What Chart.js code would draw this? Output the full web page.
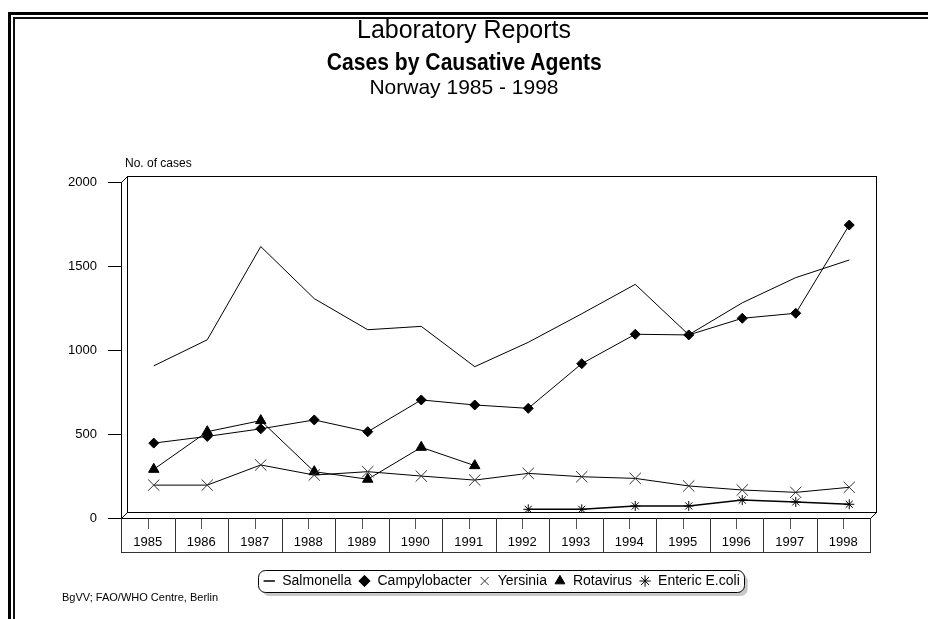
<!DOCTYPE html>
<html>
<head>
<meta charset="utf-8">
<title>Laboratory Reports - Norway 1985-1998</title>
<script src="https://cdn.jsdelivr.net/npm/chart.js@4.4.1/dist/chart.umd.min.js"></script>
<style>
    html, body { margin: 0; padding: 0; background: #fff; overflow: hidden; }
    body { width: 928px; height: 619px; position: relative; font-family: "Liberation Sans", Arial, sans-serif; color: #000; }
    .frame-outer { position: absolute; left: 8px; top: 12px; width: 1000px; height: 700px; border-left: 3px solid #000; border-top: 3px solid #000; }
    .frame-inner { position: absolute; left: 13px; top: 17px; width: 1000px; height: 700px; border-left: 2px solid #111; border-top: 2px solid #111; }
    .title { position: absolute; left: 0; width: 928px; text-align: center; line-height: 1; white-space: nowrap; }
    .title span { display: inline-block; }
    #t1 { top: 17px; font-size: 25px; }
    #t2 { top: 50px; font-size: 24px; font-weight: bold; }
    #t2 span { transform: scaleX(0.88); }
    #t3 { top: 76px; font-size: 21px; }
    #source { position: absolute; left: 62px; top: 592px; font-size: 11px; line-height: 1; }
    #chart-wrap { position: absolute; left: 0; top: 0; width: 928px; height: 619px; }
</style>
</head>
<body>
<div class="frame-outer"></div>
<div class="frame-inner"></div>
<div id="chart-wrap"><canvas id="lab-chart" width="928" height="619"></canvas></div>
<div class="title" id="t1"><span>Laboratory Reports</span></div>
<div class="title" id="t2"><span>Cases by Causative Agents</span></div>
<div class="title" id="t3"><span>Norway 1985 - 1998</span></div>
<div id="source">BgVV; FAO/WHO Centre, Berlin</div>

<script>
// 資料
const years = ['1985', '1986', '1987', '1988', '1989', '1990', '1991',
               '1992', '1993', '1994', '1995', '1996', '1997', '1998'];
const salmonella    = [870, 1025, 1580, 1270, 1085, 1105, 865, 1010, 1180, 1355, 1055, 1245, 1395, 1500];
const campylobacter = [410, 450, 495, 548, 478, 667, 637, 617, 883, 1058, 1054, 1153, 1183, 1708];
const yersinia      = [160, 160, 280, 220, 240, 214, 190, 230, 210, 200, 155, 131, 117, 147];
const rotavirus     = [254, 478, 544, 240, 195, 385, 276, null, null, null, null, null, null, null];
const entericEcoli  = [null, null, null, null, null, null, null, 16, 16, 36, 36, 71, 60, 46];
const yTicks = [0, 500, 1000, 1500, 2000];

const FONT = '"Liberation Sans", Arial, sans-serif';
const DEPTH = 6; // 3D 深度 (px)

// 3D 外框 / 分類表格 / 圖例外框
const frame3d = {
    id: 'frame3d',
    beforeDraw(chart) {
        const ctx = chart.ctx;
        const lg = chart.legend;
        if (!lg || !lg.legendHitBoxes || !lg.legendHitBoxes.length) return;
        const boxes = lg.legendHitBoxes;
        const left = Math.min(...boxes.map(b => b.left)) - 5;
        const right = Math.max(...boxes.map(b => b.left + b.width)) + 4;
        const top = Math.min(...boxes.map(b => b.top)) - 4;
        const bottom = Math.max(...boxes.map(b => b.top + b.height)) + 4;
        ctx.save();
        // 陰影
        ctx.fillStyle = '#c8c8c8';
        ctx.beginPath();
        ctx.roundRect(left + 4, top + 4, right - left, bottom - top, 7);
        ctx.fill();
        ctx.fillStyle = '#fff';
        ctx.strokeStyle = '#000';
        ctx.lineWidth = 1;
        ctx.beginPath();
        ctx.roundRect(Math.round(left) + 0.5, Math.round(top) + 0.5, Math.round(right - left), Math.round(bottom - top), 7);
        ctx.fill();
        ctx.stroke();
        ctx.restore();
    },
    beforeDatasetsDraw(chart) {
        const {ctx, chartArea: ca, scales: {x: xs, y: ys}} = chart;
        const L = Math.round(ca.left), R = Math.round(ca.right);
        const T = Math.round(ca.top), B = Math.round(ca.bottom);
        const line = (x1, y1, x2, y2) => {
            ctx.beginPath();
            ctx.moveTo(x1, y1);
            ctx.lineTo(x2, y2);
            ctx.stroke();
        };
        ctx.save();
        ctx.lineWidth = 1;
        ctx.strokeStyle = '#000';

        // 後牆
        ctx.strokeRect(L + 0.5, T + 0.5, R - L, B - T);

        // 左側牆與地板 (前緣)
        const fl = L - DEPTH, fb = B + DEPTH, fr = R - DEPTH;
        line(fl + 0.5, T + DEPTH, fl + 0.5, fb + 0.5);
        line(fl + 0.5, T + DEPTH + 0.5, L + 0.5, T + 0.5);
        line(fl + 0.5, fb + 0.5, L + 0.5, B + 0.5);
        line(fl, fb + 0.5, fr + 1, fb + 0.5);
        line(fr + 0.5, fb + 0.5, R + 0.5, B + 0.5);

        // Y 軸刻度
        yTicks.forEach(v => {
            const y = Math.round(ys.getPixelForValue(v)) + DEPTH + 0.5;
            line(fl - 13, y, fl + 1, y);
        });

        // 分類表格
        const band = (xs.right - xs.left) / years.length;
        const tb = fb + 34;
        ctx.strokeStyle = '#333';
        line(fl, tb + 0.5, fr + 1, tb + 0.5);
        for (let i = 0; i <= years.length; i++) {
            const x = Math.round(fl + band * i) + 0.5;
            line(x, fb, x, tb + 1);
        }
        ctx.strokeStyle = '#555';
        years.forEach((yr, i) => {
            const x = Math.round(xs.getPixelForValue(i) - DEPTH) + 0.5;
            line(x, fb + 1, x, fb + 11);
        });

        // 軸標題
        ctx.fillStyle = '#000';
        ctx.font = '12px ' + FONT;
        ctx.textAlign = 'left';
        ctx.textBaseline = 'middle';
        ctx.fillText('No. of cases', fl + 4, T - 12);
        ctx.restore();
    }
};

const ctx = document.getElementById('lab-chart').getContext('2d');
new Chart(ctx, {
    type: 'line',
    data: {
        labels: years,
        datasets: [
            {
                label: 'Salmonella',
                data: salmonella,
                borderColor: '#000',
                backgroundColor: '#000',
                borderWidth: 1,
                pointStyle: 'line',
                pointRadius: 0,
                pointBorderColor: '#000',
                pointBackgroundColor: '#000',
                pointBorderWidth: 1.5
            },
            {
                label: 'Campylobacter',
                data: campylobacter,
                borderColor: '#000',
                backgroundColor: '#000',
                borderWidth: 1,
                pointStyle: 'rectRot',
                pointRadius: 5,
                pointBorderColor: '#000',
                pointBackgroundColor: '#000',
                pointBorderWidth: 1
            },
            {
                label: 'Yersinia',
                data: yersinia,
                borderColor: '#000',
                backgroundColor: '#333',
                borderWidth: 1,
                pointStyle: 'crossRot',
                pointRadius: 8,
                pointBorderColor: '#333',
                pointBackgroundColor: '#333',
                pointBorderWidth: 1
            },
            {
                label: 'Rotavirus',
                data: rotavirus,
                borderColor: '#000',
                backgroundColor: '#000',
                borderWidth: 1,
                pointStyle: 'triangle',
                pointRadius: 6,
                pointBorderColor: '#000',
                pointBackgroundColor: '#000',
                pointBorderWidth: 1
            },
            {
                label: 'Enteric E.coli',
                data: entericEcoli,
                borderColor: '#000',
                backgroundColor: '#000',
                borderWidth: 1.5,
                pointStyle: 'star',
                pointRadius: 5,
                pointBorderColor: '#000',
                pointBackgroundColor: '#000',
                pointBorderWidth: 1
            }
        ]
    },
    options: {
        responsive: false,
        animation: false,
        devicePixelRatio: 1,
        layout: {
            padding: { left: 47, right: 52, top: 176, bottom: 21 }
        },
        elements: {
            line: { tension: 0 }
        },
        plugins: {
            title: { display: false },
            tooltip: { enabled: false },
            legend: {
                position: 'bottom',
                fullSize: false,
                labels: {
                    usePointStyle: true,
                    boxWidth: 12,
                    boxHeight: 8,
                    padding: 7,
                    color: '#000',
                    font: { family: FONT, size: 14 }
                }
            }
        },
        scales: {
            x: {
                offset: true,
                grid: { display: false, drawTicks: false },
                border: { display: false },
                ticks: {
                    color: '#000',
                    font: { family: FONT, size: 13 },
                    autoSkip: false,
                    maxRotation: 0,
                    labelOffset: -DEPTH,
                    padding: 23
                },
                afterFit(scale) { scale.height = 55; }
            },
            y: {
                min: 0,
                max: 2000,
                grid: { display: false, drawTicks: false },
                border: { display: false },
                ticks: {
                    stepSize: 500,
                    color: '#000',
                    font: { family: FONT, size: 13 },
                    labelOffset: DEPTH,
                    padding: 30,
                    callback: v => String(v)
                },
                afterFit(scale) { scale.width = 80; }
            }
        }
    },
    plugins: [frame3d]
});
</script>
</body>
</html>
